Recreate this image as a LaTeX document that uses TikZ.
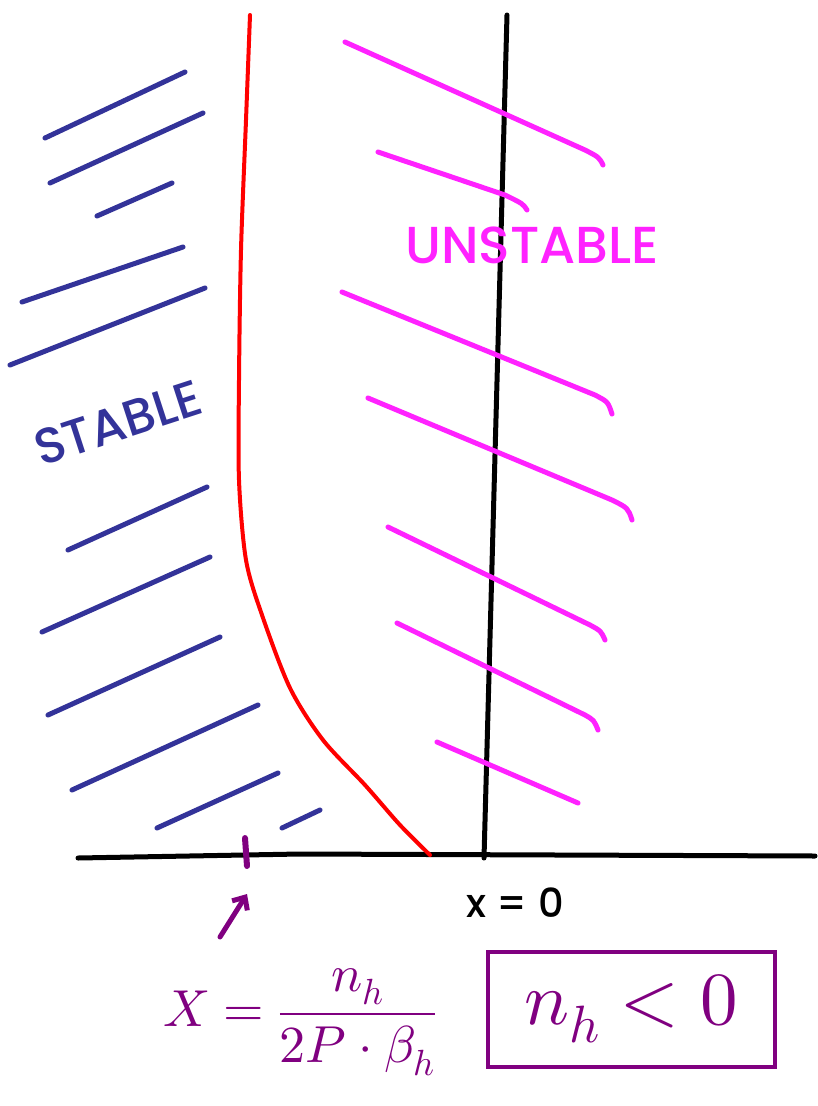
\documentclass[tikz,border=0pt]{standalone}
\usepackage{fontspec}
\usepackage{unicode-math}
\setsansfont{Poppins}[BoldFont={Poppins Medium}]
\setmathfont{Latin Modern Math}
\usetikzlibrary{arrows.meta}
\definecolor{stablecol}{HTML}{333399}
\definecolor{unstablecol}{HTML}{FF22FF}
\definecolor{notecol}{HTML}{800080}
\definecolor{curvecol}{HTML}{FF0000}

\begin{document}
\begin{tikzpicture}[x=1pt, y=-1pt,
    stroke/.style={line width=5pt, line cap=round, line join=round},
    hatchstable/.style={stroke, draw=stablecol},
    hatchunstable/.style={stroke, draw=unstablecol}]
  \useasboundingbox[fill=white] (0,0) rectangle (817,1106);

  % axes
  \draw[stroke, black] (78,858) -- (300,854) -- (815,856);
  \draw[stroke, black] (507,15) -- (484,858);

  % stability boundary
  \draw[stroke, curvecol, line width=4pt] plot[smooth] coordinates {(250,15) (246,120) (241,250) (239,380) (239,480) (246,560) (262,615) (290,688) (323,740) (365,785) (400,825) (430,855)};

  % stable side
  \foreach \xa/\ya/\xb/\yb in {45/138/185/72, 50/183/203/113, 97/216/172/183, 22/302/183/247,
      10/365/205/288, 68/550/207/487, 42/632/210/557, 48/715/220/637, 72/790/258/705,
      157/828/278/773, 282/828/320/810}
    \draw[hatchstable] (\xa,\ya) -- (\xb,\yb);

  % unstable side
  \foreach \xa/\ya/\xb/\yb/\xc/\yc in {345/42/585/150/603/165, 378/152/505/195/527/210,
      342/292/595/395/612/414, 368/398/612/500/632/520, 388/527/590/625/605/640,
      397/623/585/715/598/730}
    \draw[hatchunstable] (\xa,\ya) -- (\xb,\yb) .. controls ({\xc-4},{\yb+(\xc-\xb)*0.4}) .. (\xc,\yc);
  \draw[hatchunstable] (437,742) -- (578,803);

  \node[text=stablecol, font=\sffamily\bfseries\fontsize{50}{50}\selectfont, rotate=18] (stable) at (118,423) {STABLE};
  \node[text=unstablecol, font=\sffamily\bfseries\fontsize{52}{52}\selectfont] (unstable) at (532,245) {UNSTABLE};
  \node[text=black, font=\sffamily\bfseries\fontsize{40}{40}\selectfont] (origin) at (515,903) {x = 0};

  % boundary position
  \coordinate (tick) at (246,852);
  \draw[stroke, notecol, line width=6pt] (245,838) -- (247,866);
  \coordinate (arrowtail) at (220,937);
  \coordinate (arrowhead) at (247,894);
  \draw[stroke, notecol, -{Straight Barb[length=10pt, width=18pt]}] (arrowtail) -- (arrowhead);

  \node[text=notecol, font=\fontsize{52}{52}\selectfont] (formula) at (300,1022) {$\displaystyle X=\frac{n_h}{2P\cdot\beta_h}$};
  \node[draw=notecol, line width=4pt, text=notecol, minimum width=287pt, minimum height=115pt,
    font=\fontsize{75}{75}\selectfont] (cond) at (631,1009) {$n_h < 0$};
\end{tikzpicture}
\end{document}
